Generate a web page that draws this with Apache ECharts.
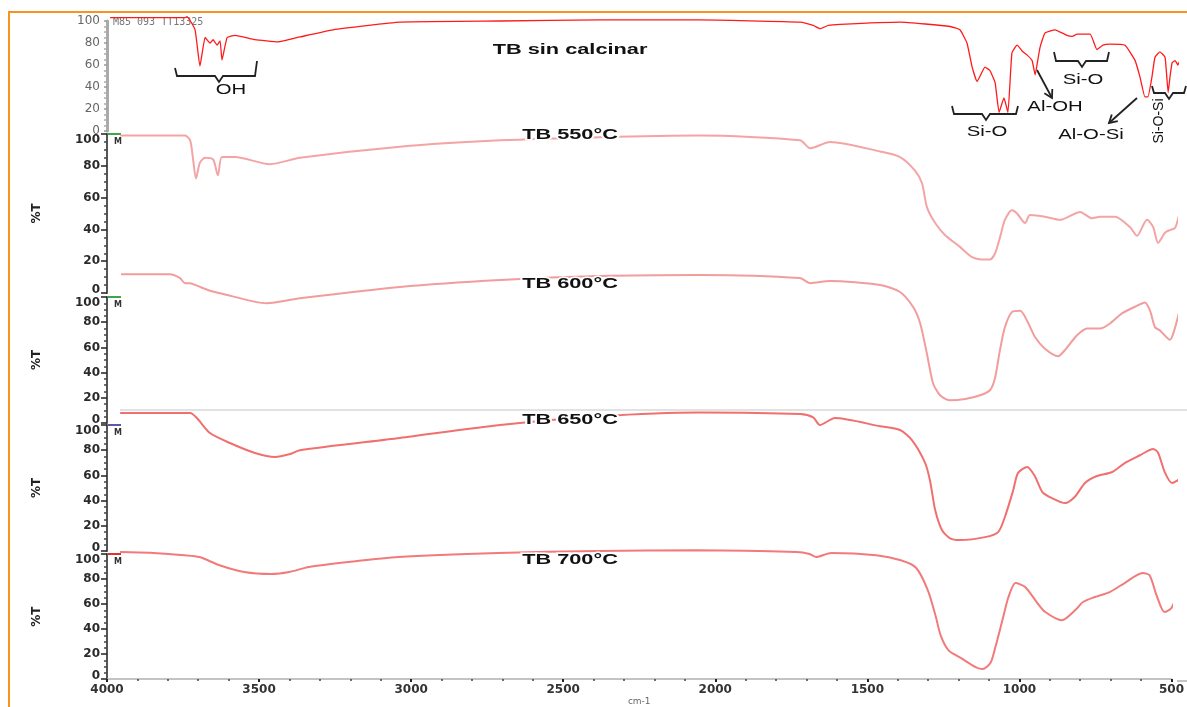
<!DOCTYPE html>
<html>
<head>
<meta charset="utf-8">
<script src="https://cdn.jsdelivr.net/npm/echarts@6/dist/echarts.min.js"></script>
<style>
html,body{margin:0;padding:0;background:#fff}
#main{width:1187px;height:707px}
</style>
</head>
<body>
<div id="main"></div>
<script>
// FTIR spectra, wavenumber (cm-1) / %T
var wnRaw = [3990,3745,3738,3712,3696,3679,3663,3653,3640,3630,3624,3607,3581,3516,3441,3369,3261,3042,2714,2388,2061,1733,1690,1668,1640,1602,1406,1242,1210,1187,1170,1154,1128,1112,1095,1082,1066,1053,1040,1023,1004,990,974,964,958,948,932,899,860,843,827,784,762,742,719,670,637,621,605,595,582,572,556,539,529,523,516,506,497,484,467];
var tRaw = [103,103,104,92,59,85,80,83,78,82,64.5,85,87,83,81,85.5,92,99,100,101,101,99,96,93,96,97,99,95,92,80,58,45,58,55,44,17,30,17,71,78,72,69,64,51,60,76,89,92,87,86,88,88,74,78,79,78,64,49,31,31,49,67,72,67,35,49,62,64,60,69,74];

var wn550 = [3957,3745,3728,3719,3709,3696,3679,3653,3637,3624,3581,3467,3369,3042,2714,2388,2061,1733,1700,1635,1471,1406,1357,1334,1318,1291,1259,1210,1170,1128,1112,1095,1079,1063,1040,1023,997,981,932,883,817,778,752,703,654,631,598,578,562,539,523,506,490];
var t550 = [99,99,96,85,72,82,85,84,74,85.5,85.5,81,85,92,96,98,99,96,91,95,89,85.5,77,69,54,44,36.5,29,22.6,21,21,25,35,46,52,50,44,49,48,46,51,47,48,48,41.5,36,46,41.5,31.5,38,39.6,41,52];

var wn600 = [3954,3794,3761,3745,3728,3706,3663,3630,3477,3369,3042,2714,2388,2061,1733,1700,1635,1471,1406,1363,1340,1318,1298,1275,1242,1193,1144,1112,1095,1079,1063,1040,1013,990,964,932,889,866,827,794,752,719,680,631,605,588,572,556,523,506,490,480];
var t600 = [118,118,115,111,111,109,105,103,95,99,108,113.5,116.7,117.5,115,111,112.7,109.5,104,92,79,55,31.6,22,18,19,22,26,36,58,76,88,89,81,68,59,53,58,69.6,75,75,79,87,93,95.6,89,76,73.5,66,76,91,99.6];

var wn650 = [3957,3728,3706,3663,3598,3516,3450,3401,3369,3042,2714,2388,2061,1733,1690,1668,1619,1471,1406,1367,1324,1308,1291,1269,1242,1210,1128,1085,1063,1036,1020,990,964,941,909,866,834,801,762,712,670,621,578,562,539,516,490,470];
var t650 = [109.5,109.5,105.5,93.6,85.7,77.8,74.6,77,80,89.7,100,107,110,108.7,106,100,105.5,99,96,88,70,56,32.5,16.7,10,8.7,11,15,27,48,62,66.7,59,47,42,38,43,54,59.5,62.7,70,76,81,78,62,54,58,74.6];

var wn700 = [3957,3859,3745,3696,3630,3549,3460,3401,3336,3205,3042,2714,2388,2061,1733,1690,1668,1619,1471,1390,1340,1301,1275,1259,1233,1193,1144,1121,1095,1079,1056,1036,1013,981,941,915,860,817,791,752,703,654,595,572,549,523,500,474];
var t700 = [101.6,101,99,97.6,91,85.6,84,85.6,89.6,93.6,97.6,100.8,102.4,103,101.6,100,97.6,100.8,99,95,89,71,50,35,23,17,9.6,8,13,25.6,47,65.6,76.8,73.6,60.8,53.6,47,55,61.6,65.6,69.6,76.8,84.8,83,67,53.6,56.8,73.6];

var panelNames = ['TB sin calcinar', 'TB 550°C', 'TB 600°C', 'TB 650°C', 'TB 700°C'];
var panelWn = [wnRaw, wn550, wn600, wn650, wn700];
var panelT = [tRaw, t550, t600, t650, t700];

var chart = echarts.init(document.getElementById('main'));

// pixel layout of the stacked panels (value 100 at top, 0 at bottom)
var boxes = [
    {top: 21, height: 110},
    {top: 134, height: 159},
    {top: 297, height: 126},
    {top: 425, height: 126},
    {top: 554, height: 127}
];
var lineColors = ['#ff1a1a', '#f4a4a4', '#f29c9c', '#f07070', '#f27a7a'];
var titleY = [50, 135, 284, 420, 560];
var labelFont = 'DejaVu Sans';

var grids = [], xAxes = [], yAxes = [], series = [];
for (var i = 0; i < 5; i++) {
    var last = i === 4, first = i === 0;
    grids.push({left: 107, right: 10, top: boxes[i].top, height: boxes[i].height});
    xAxes.push({
        gridIndex: i,
        type: 'value',
        min: 500,
        max: 4000,
        interval: 500,
        inverse: true,
        show: last,
        name: last ? 'cm-1' : '',
        nameLocation: 'middle',
        nameGap: 17,
        nameTextStyle: {color: '#666', fontSize: 9, fontFamily: labelFont},
        axisLine: {show: true, lineStyle: {color: '#b0b0b0', width: 1.5}},
        axisTick: {show: true, length: 3, lineStyle: {color: '#222', width: 2}},
        minorTick: {show: true, splitNumber: 5, length: 2, lineStyle: {color: '#444', width: 1.5}},
        axisLabel: {
            color: '#333', fontSize: 12, fontWeight: 'bold', fontFamily: labelFont, margin: 5,
            formatter: function (v) { return String(v); }
        },
        splitLine: {show: false}
    });
    yAxes.push({
        gridIndex: i,
        type: 'value',
        min: 0,
        max: 100,
        interval: 20,
        name: first ? '' : '%T',
        nameLocation: 'middle',
        nameRotate: 90,
        nameGap: 64,
        nameTextStyle: {color: '#222', fontSize: 12, fontWeight: 'bold', fontFamily: labelFont},
        axisLine: {show: true, lineStyle: {color: first ? '#aaa' : '#555', width: first ? 3 : 2}},
        axisTick: {show: true, length: first ? 3 : 6, lineStyle: {color: first ? '#999' : '#222', width: 1.5}},
        minorTick: {show: true, splitNumber: 4, length: 3, lineStyle: {color: first ? '#aaa' : '#444', width: 1.5}},
        axisLabel: first ? {
            color: '#666', fontSize: 12, fontFamily: labelFont, margin: 7
        } : {
            color: '#2a2a2a', fontSize: 12, fontWeight: 'bold', fontFamily: labelFont, margin: 7,
            formatter: function (v) {
                if (v === 100) return '{dn|100}';
                if (v === 0) return '{up|0}';
                return v;
            },
            rich: {
                dn: {padding: [12, 0, 0, 0], color: '#2a2a2a', fontSize: 12, fontWeight: 'bold', fontFamily: labelFont},
                up: {padding: [0, 0, 7, 0], color: '#2a2a2a', fontSize: 12, fontWeight: 'bold', fontFamily: labelFont}
            }
        },
        splitLine: {show: false}
    });
    var pts = [];
    for (var k = 0; k < panelWn[i].length; k++) pts.push([panelWn[i][k], panelT[i][k]]);
    series.push({
        name: panelNames[i],
        type: 'line',
        xAxisIndex: i,
        yAxisIndex: i,
        data: pts,
        showSymbol: false,
        clip: false,
        smooth: first ? 0.12 : 0.25,
        lineStyle: {color: lineColors[i], width: first ? 1.3 : 2},
        silent: true
    });
}

function txt(s, x, y, size, bold, rot, sx, halo) {
    var st = {
        text: s, x: 0, y: 0, align: 'center', verticalAlign: 'middle',
        textAlign: 'center', textVerticalAlign: 'middle',
        font: (bold ? 'bold ' : '') + size + 'px "Liberation Sans", Arial, sans-serif',
        fill: '#111'
    };
    if (halo) { st.stroke = '#ffffff'; st.lineWidth = 3; }
    return {type: 'text', x: x, y: y, rotation: rot || 0, scaleX: sx || 1.45, silent: true, z: 10, style: st};
}
function poly(points, color, w) {
    return {type: 'polyline', silent: true, shape: {points: points},
        style: {stroke: color || '#222', lineWidth: w || 1.5, fill: null}};
}
function bracket(x1, x2, y, y1, y2, xc) {
    return poly([[x1, y1], [x1 + 2, y], [xc - 4, y], [xc, y + 6], [xc + 4, y], [x2 - 2, y], [x2, y2]], '#222', 1.8);
}
function arrow(x1, y1, x2, y2) {
    var dx = x2 - x1, dy = y2 - y1, L = Math.sqrt(dx * dx + dy * dy);
    var bx = -dx / L, by = -dy / L, h = 9, c = Math.cos(Math.PI / 6), s = Math.sin(Math.PI / 6);
    var p1 = [x2 + h * (bx * c - by * s), y2 + h * (bx * s + by * c)];
    var p2 = [x2 + h * (bx * c + by * s), y2 + h * (-bx * s + by * c)];
    return [poly([[x1, y1], [x2, y2]], '#222', 1.8), poly([p1, [x2, y2], p2], '#222', 1.8)];
}

var graphics = [
    // orange frame of the pasted figure
    poly([[9, 707], [9, 12], [1187, 12]], '#f7941d', 2),
    // grey separator under the 600 °C trace
    poly([[120, 410], [1187, 410]], '#e2e2e2', 2),
    // extend the bottom axis to the right edge
    poly([[1177, 681], [1187, 681]], '#b0b0b0', 1.5),
    // coloured markers at the top of each stacked axis
    poly([[108, 134], [121, 134]], '#3aa84a', 2),
    poly([[108, 297], [121, 297]], '#3aa84a', 2),
    poly([[108, 425], [121, 425]], '#5a5aa8', 2),
    poly([[108, 554], [121, 554]], '#e03030', 2),
    {type: 'text', x: 113, y: 22, silent: true,
        style: {text: 'M85 093 TT13325', x: 0, y: 0, verticalAlign: 'middle', textVerticalAlign: 'middle',
            font: '10px "DejaVu Sans Mono", monospace', fill: '#777'}},
    // OH band
    bracket(175, 257, 76, 68, 61, 219),
    txt('OH', 231, 90, 14, false),
    // Si-O (stretching)
    bracket(952, 1018, 114, 106, 106, 986),
    txt('Si-O', 987, 132, 14, false),
    txt('Al-OH', 1055, 107, 14, false),
    // Si-O upper
    bracket(1054, 1109, 61, 52, 52, 1082),
    txt('Si-O', 1083, 80, 14, false),
    txt('Al-O-Si', 1091, 135, 14, false),
    bracket(1152, 1186, 93, 86, 86, 1169),
    txt('Si-O-Si', 1159, 121, 14, false, Math.PI / 2, 1)
].concat(arrow(1037, 70, 1052, 98), arrow(1137, 98, 1109, 123));

for (var j = 0; j < 5; j++) {
    graphics.push(txt(panelNames[j], 570, titleY[j], 15, true, 0, 1.45, j > 0));
    if (j > 0) {
        graphics.push({type: 'text', x: 114, y: boxes[j].top + 8, silent: true,
            style: {text: 'M', x: 0, y: 0, verticalAlign: 'middle', textVerticalAlign: 'middle',
                font: 'bold 8px "DejaVu Sans", sans-serif', fill: '#333'}});
    }
}

chart.setOption({
    backgroundColor: '#ffffff',
    animation: false,
    grid: grids,
    xAxis: xAxes,
    yAxis: yAxes,
    series: series,
    graphic: {elements: graphics}
});
</script>
</body>
</html>
